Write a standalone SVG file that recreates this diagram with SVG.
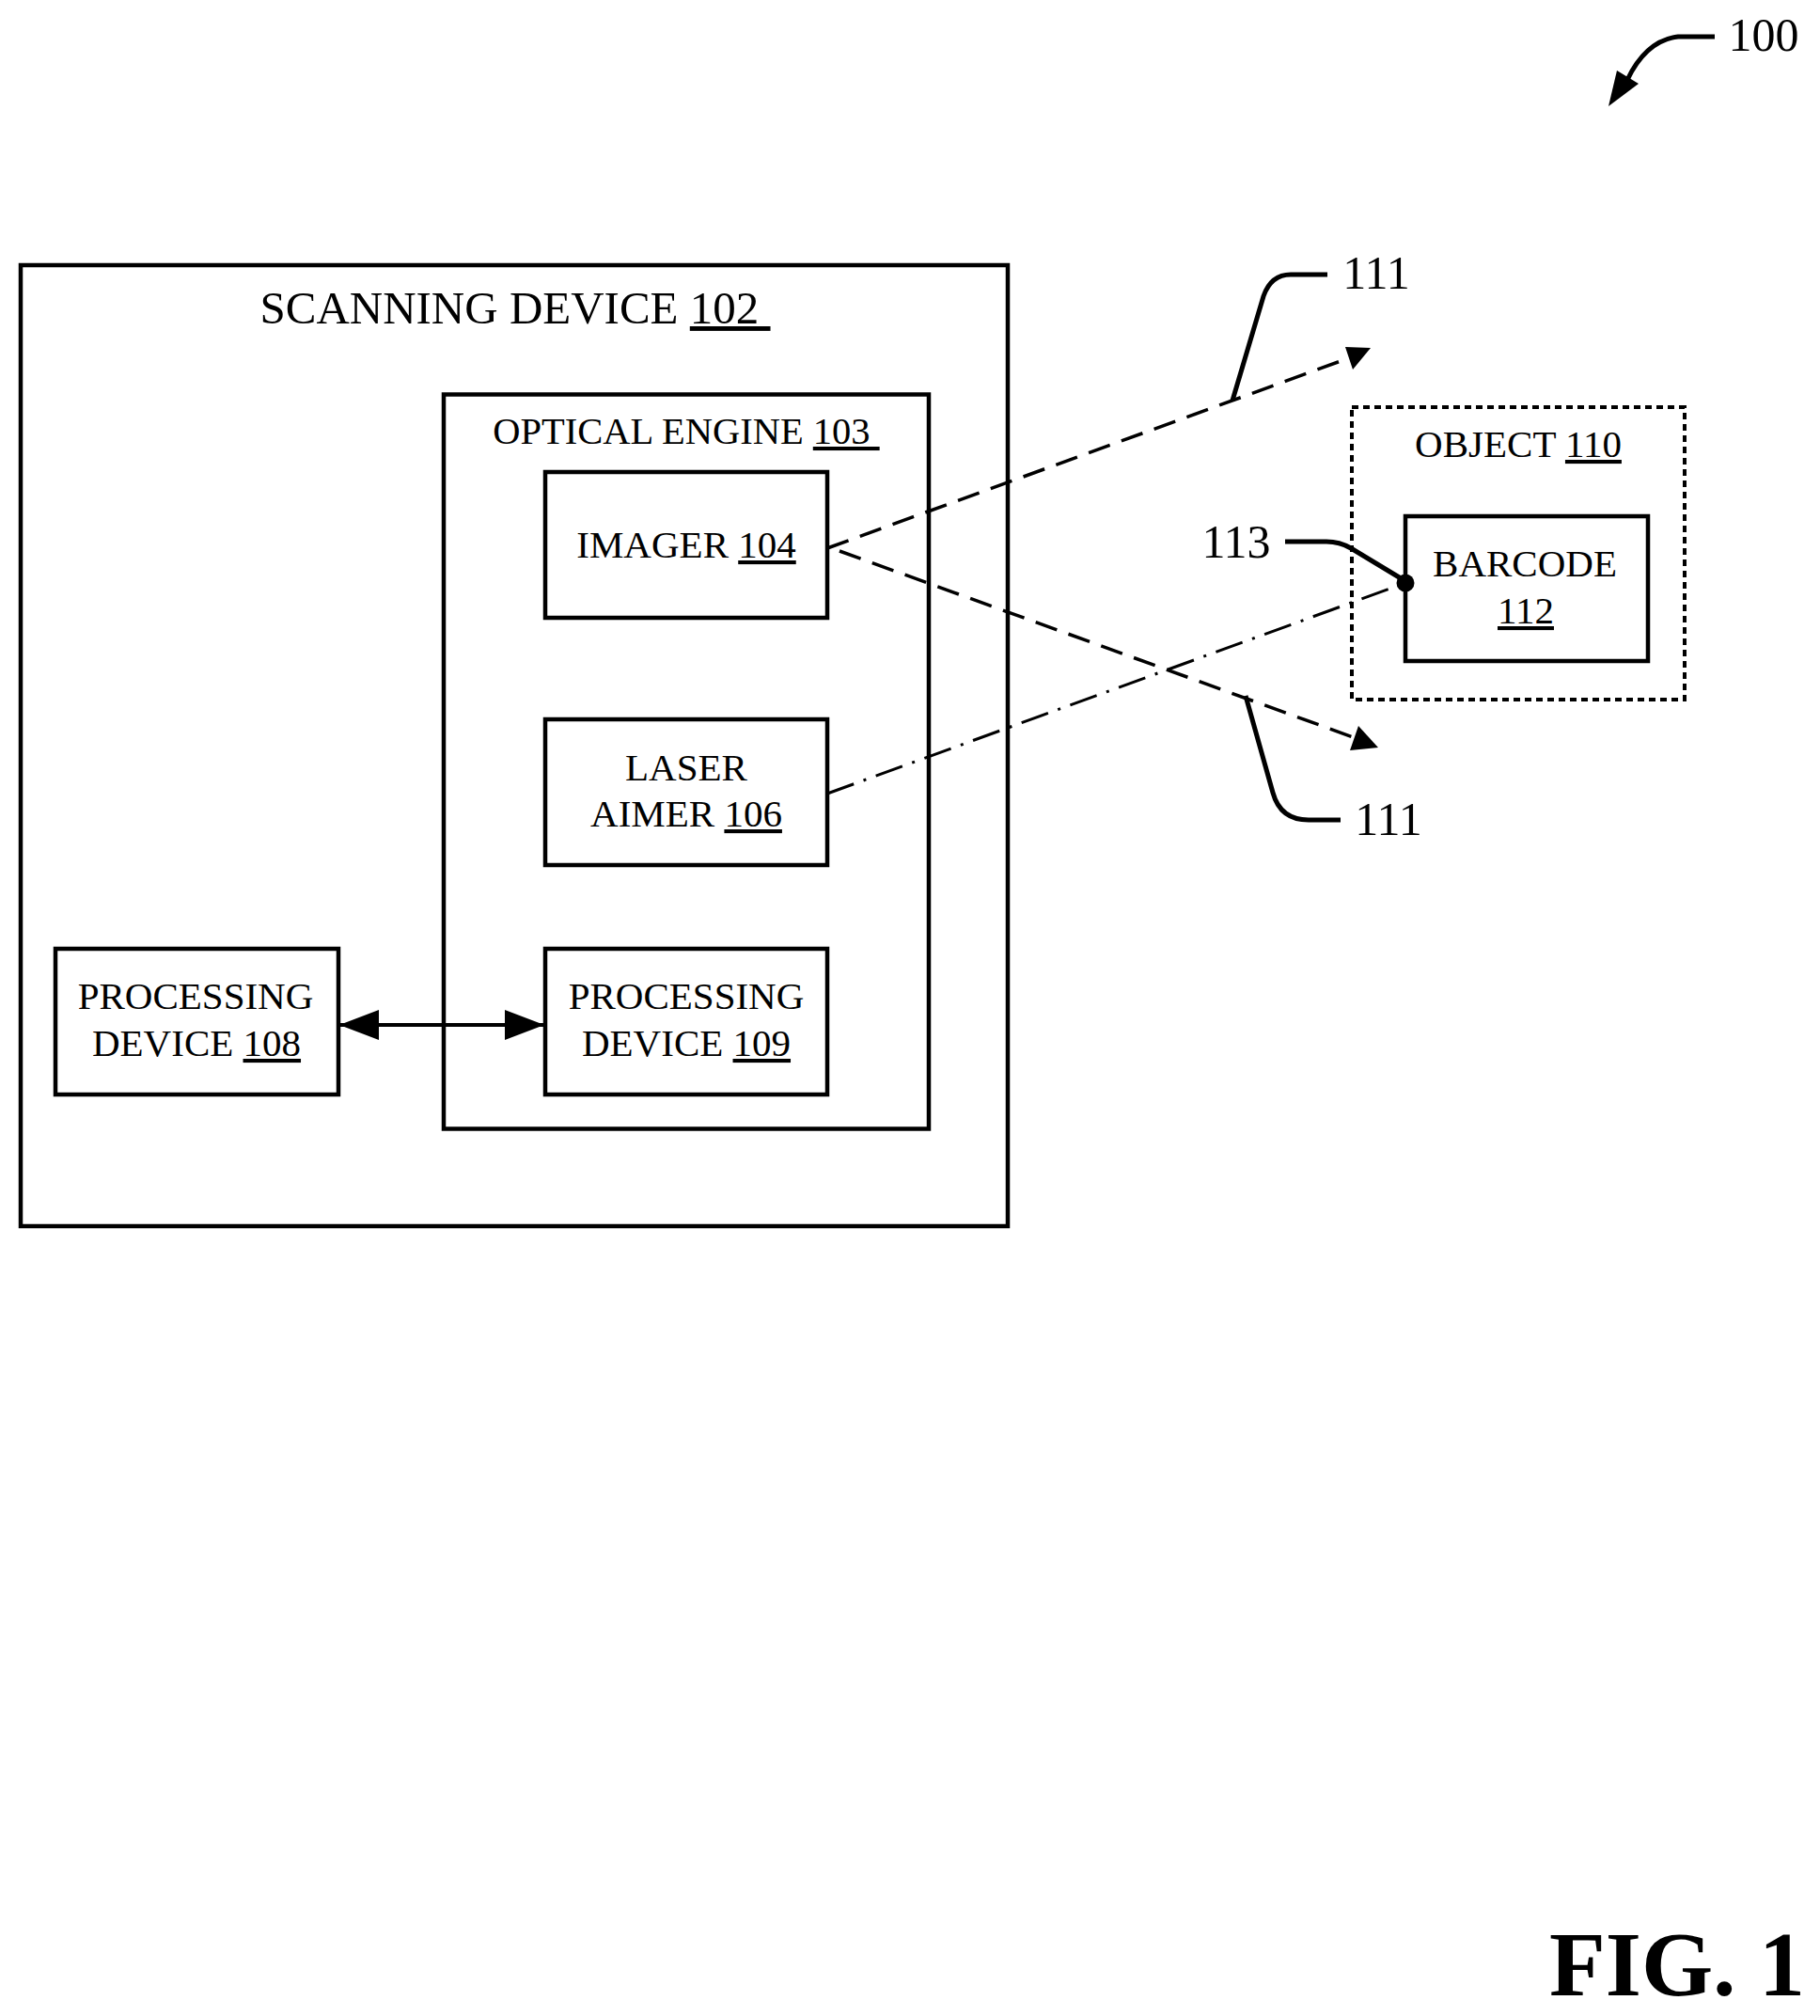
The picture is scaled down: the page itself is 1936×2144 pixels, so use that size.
<svg xmlns="http://www.w3.org/2000/svg" width="1936" height="2144" viewBox="0 0 1936 2144">
<style>
text{font-family:"Liberation Serif","Times New Roman",serif;fill:#000;text-anchor:middle;white-space:pre}
.t{font-size:41px}
.n{font-size:50px}
.u{text-decoration:underline}
.b{fill:#fff;stroke:#000;stroke-width:4.5}
.l{fill:none;stroke:#000;stroke-width:4}
.ld{fill:none;stroke:#000;stroke-width:5}
.d{fill:none;stroke:#000;stroke-width:3.5;stroke-dasharray:24 13}
.dd{fill:none;stroke:#000;stroke-width:3;stroke-dasharray:30 11 3 11}
</style>
<defs>
<marker id="ah" markerUnits="userSpaceOnUse" markerWidth="44" markerHeight="36" refX="42" refY="18" orient="auto-start-reverse"><path d="M0 2L42 18L0 34Z" fill="#000"/></marker>
</defs>
<rect width="1936" height="2144" fill="#fff"/>
<g id="scanning-device"><rect class="b" x="22" y="282" width="1050" height="1022"/>
<text x="548" y="344" style="font-size:49px">SCANNING DEVICE <tspan class="u">102 </tspan></text></g>
<g id="optical-engine"><rect class="b" x="472" y="419.500" width="516" height="781"/>
<text x="730" y="472" style="font-size:40.500px">OPTICAL ENGINE <tspan class="u">103 </tspan></text></g>
<g id="imager"><rect class="b" x="580" y="502" width="300" height="155"/>
<text class="t" x="730" y="593">IMAGER <tspan class="u">104</tspan></text></g>
<g id="laser-aimer"><rect class="b" x="580" y="765" width="300" height="155"/>
<text class="t" x="730" y="830">LASER</text><text class="t" x="730" y="879">AIMER <tspan class="u">106</tspan></text></g>
<g id="processing-109"><rect class="b" x="580" y="1009" width="300" height="155"/>
<text class="t" x="730" y="1073">PROCESSING</text><text class="t" x="730" y="1123">DEVICE <tspan class="u">109</tspan></text></g>
<g id="processing-108"><rect class="b" x="59" y="1009" width="301" height="155"/>
<text class="t" x="208" y="1073">PROCESSING</text><text class="t" x="209" y="1123">DEVICE <tspan class="u">108</tspan></text></g>
<g id="object"><rect x="1438" y="433" width="354" height="311" fill="none" stroke="#000" stroke-width="4" stroke-dasharray="7 5"/>
<text class="t" x="1615" y="486">OBJECT <tspan class="u">110</tspan></text></g>
<g id="barcode"><rect class="b" x="1495" y="549" width="258" height="154"/>
<text class="t" x="1622" y="613">BARCODE</text><text class="t" x="1623" y="663"><tspan class="u">112</tspan></text></g>
<g id="connectors">
<path class="l" d="M361 1090H579" marker-start="url(#ah)" marker-end="url(#ah)"/>
<path class="d" d="M880 583L1437 380"/>
<path d="M1458 370L1431 369L1439 393Z"/>
<path class="d" d="M893 586L1442 785"/>
<path d="M1466 795L1445 772L1436 798Z"/>
<path class="dd" d="M880 844L1495 620"/>
<circle cx="1495" cy="620" r="9.500"/>
<path class="ld" d="M1311 426L1344 315Q1352 292 1373 292H1412"/>
<path class="ld" d="M1325 740L1354 843Q1362 872 1392 872H1426"/>
<path class="ld" d="M1367 576H1411Q1425 576 1437 583L1490 615"/>
<path class="ld" d="M1824 39H1785Q1751 43 1731 85"/>
<path d="M1711 113L1720 75L1743 89Z"/>
</g>
<g id="labels">
<text class="n" x="1876" y="54">100</text>
<text class="n" x="1464" y="307">111</text>
<text class="n" x="1477" y="888">111</text>
<text class="n" x="1315" y="593">113</text>
<text x="1784" y="2122" style="font-size:98px;font-weight:bold">FIG. 1</text>
</g>
</svg>
